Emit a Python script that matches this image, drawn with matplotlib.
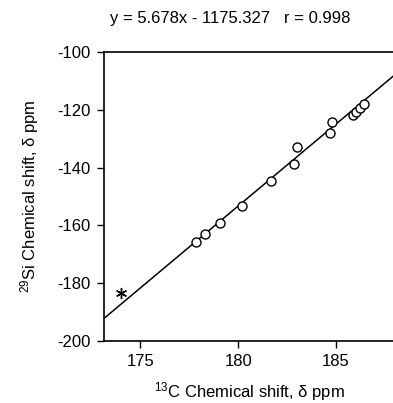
import numpy as np
import matplotlib.pyplot as plt

plt.rcParams['font.family'] = ['Liberation Sans', 'DejaVu Sans']
plt.rcParams['axes.unicode_minus'] = False
plt.rcParams['mathtext.default'] = 'regular'

# data
c13 = [177.84, 178.33, 179.07, 180.22, 181.67, 182.85, 183.02, 184.71, 184.78,
       185.86, 186.03, 186.23, 186.45]
si29 = [-165.7, -163.1, -159.3, -153.3, -144.6, -138.8, -132.8, -128.1, -124.2,
        -121.8, -120.7, -119.5, -118.1]
c13_out = [174.01]
si29_out = [-183.5]

# regression line
slope = 5.678
icpt = -1175.327
r = 0.998

xlim = (173.15, 188.0)
ylim = (-200, -100)
xticks = [175, 180, 185]
yticks = [-200, -180, -160, -140, -120, -100]

fig = plt.figure(figsize=(3.93, 4.03), dpi=100)
ax = fig.add_axes([0.2646, 0.1538, 0.74, 0.717])

xl = np.array(xlim)
ax.plot(xl, slope*xl + icpt, color='black', lw=1.1)
ax.plot(c13, si29, 'o', mfc='white', mec='black', mew=1.0, ms=6.5)
ax.plot(c13_out, si29_out, ls='none', marker=(6, 2, 0), color='black', mew=1.0, ms=8)

ax.set_xlim(*xlim)
ax.set_ylim(*ylim)
ax.set_xticks(xticks)
ax.set_yticks(yticks)
ax.tick_params(direction='out', length=5, width=1.0, labelsize=12, colors='black', pad=4.5)
for s in ['left', 'bottom', 'top']:
    ax.spines[s].set_linewidth(1.2)
ax.spines['right'].set_visible(False)

ax.set_xlabel('$^{13}$C Chemical shift, δ ppm', fontsize=12, labelpad=8)
ax.set_ylabel('$^{29}$Si Chemical shift, δ ppm', fontsize=12, labelpad=12)
fig.text(0.585, 0.955, 'y = %.3fx - %.3f   r = %.3f' % (slope, -icpt, r),
         ha='center', va='center', fontsize=12)

fig.savefig('out.png', dpi=100)
